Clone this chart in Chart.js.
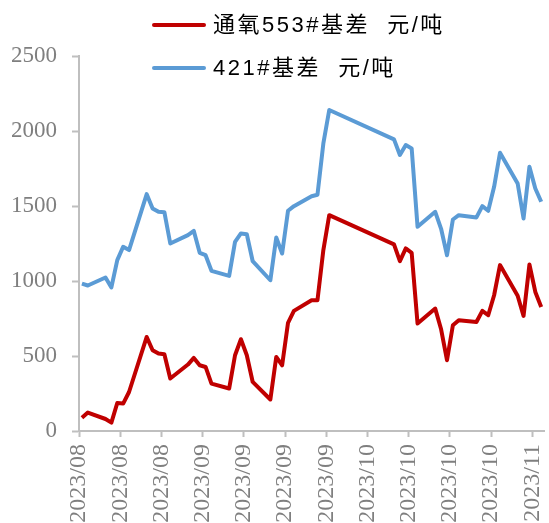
<!DOCTYPE html>
<html lang="zh">
<head>
<meta charset="UTF-8">
<title>基差</title>
<script src="https://cdn.jsdelivr.net/npm/chart.js"></script>
<style>
  body { margin: 0; background: #fff; }
</style>
</head>
<body>
<canvas id="basisChart" width="549" height="523"></canvas>
<script>
// trading days (weekends and the October holiday are gaps)
const dates = [
  '2023-08-17', '2023-08-18',
  '2023-08-21', '2023-08-22', '2023-08-23', '2023-08-24', '2023-08-25',
  '2023-08-28', '2023-08-29', '2023-08-30', '2023-08-31', '2023-09-01',
  '2023-09-04', '2023-09-05', '2023-09-06', '2023-09-07', '2023-09-08',
  '2023-09-11', '2023-09-12', '2023-09-13', '2023-09-14', '2023-09-15',
  '2023-09-18', '2023-09-19', '2023-09-20', '2023-09-21', '2023-09-22',
  '2023-09-25', '2023-09-26', '2023-09-27', '2023-09-28',
  '2023-10-09', '2023-10-10', '2023-10-11', '2023-10-12', '2023-10-13',
  '2023-10-16', '2023-10-17', '2023-10-18', '2023-10-19', '2023-10-20',
  '2023-10-23', '2023-10-24', '2023-10-25', '2023-10-26', '2023-10-27',
  '2023-10-30', '2023-10-31', '2023-11-01', '2023-11-02', '2023-11-03'
];

const basis553 = [
  89, 123,
  80, 56, 187, 183, 260,
  627, 538, 516, 512, 350,
  443, 487, 438, 427, 316,
  283, 505, 612, 505, 327,
  210, 494, 438, 721, 801,
  872, 872, 1206, 1439,
  1244, 1132, 1217, 1188, 716,
  816, 678, 472, 705, 739,
  727, 801, 772, 905, 1106,
  902, 767, 1110, 927, 827
];

const basis421 = [
  983, 970,
  1023, 957, 1139, 1228, 1206,
  1579, 1484, 1461, 1459, 1250,
  1306, 1334, 1188, 1172, 1068,
  1034, 1261, 1317, 1312, 1132,
  1005, 1290, 1183, 1468, 1499,
  1565, 1575, 1917, 2140,
  1944, 1840, 1906, 1884, 1361,
  1461, 1348, 1172, 1410, 1439,
  1424, 1499, 1468, 1628, 1855,
  1650, 1417, 1761, 1617, 1528
];

// weekly major ticks on the date axis
const tickDates = [
  '2023-08-17', '2023-08-24', '2023-08-31', '2023-09-07', '2023-09-14', '2023-09-21',
  '2023-09-28', '2023-10-05', '2023-10-12', '2023-10-19', '2023-10-26', '2023-11-02'
];

const seriesNames = ['通氧553#基差  元/吨', '421#基差  元/吨'];

const DAY = 86400000;
const start = Date.parse(dates[0]);
const dayOf = s => (Date.parse(s) - start) / DAY;
const lastDay = dayOf(dates[dates.length - 1]);

const axisGray = '#bfbfbf';
const labelGray = '#7f7f7f';
const serif = '"Liberation Serif", "Times New Roman", serif';

// two stacked legend rows drawn over the top of the plot
const legendRows = {
  id: 'legendRows',
  afterDraw(chart) {
    const ctx = chart.ctx;
    chart.data.datasets.forEach((ds, i) => {
      const y = 25 + i * 43;
      ctx.save();
      ctx.strokeStyle = ds.borderColor;
      ctx.lineWidth = 4;
      ctx.lineCap = 'round';
      ctx.beginPath();
      ctx.moveTo(154, y);
      ctx.lineTo(204, y);
      ctx.stroke();
      ctx.fillStyle = '#000';
      ctx.font = '22px "Liberation Sans", "Noto Sans CJK SC", sans-serif';
      ctx.letterSpacing = '2.5px';
      ctx.textBaseline = 'middle';
      ctx.fillText(ds.label, 213, y + 1);
      ctx.restore();
    });
  }
};

new Chart(document.getElementById('basisChart'), {
  type: 'line',
  data: {
    datasets: [
      {
        label: seriesNames[0],
        data: dates.map((d, i) => ({ x: dayOf(d), y: basis553[i] })),
        borderColor: '#c00000',
        borderWidth: 4,
        pointRadius: 0,
        borderJoinStyle: 'round',
        tension: 0
      },
      {
        label: seriesNames[1],
        data: dates.map((d, i) => ({ x: dayOf(d), y: basis421[i] })),
        borderColor: '#5b9bd5',
        borderWidth: 4,
        pointRadius: 0,
        borderJoinStyle: 'round',
        tension: 0
      }
    ]
  },
  options: {
    responsive: false,
    devicePixelRatio: 1,
    animation: false,
    layout: { padding: { top: 56, right: 1, left: 0, bottom: 0 } },
    plugins: {
      legend: { display: false },
      tooltip: { enabled: false }
    },
    scales: {
      x: {
        type: 'linear',
        min: -0.5,
        max: lastDay + 0.5,
        afterBuildTicks: scale => {
          scale.ticks = tickDates.map(t => ({ value: dayOf(t) - 0.5 }));
        },
        afterFit: scale => { scale.height = 92; },
        border: { color: axisGray, width: 2 },
        grid: { drawOnChartArea: false, tickLength: 6, tickWidth: 2, tickColor: axisGray },
        ticks: {
          autoSkip: false,
          minRotation: 90,
          maxRotation: 90,
          padding: 7,
          color: labelGray,
          font: { family: serif, size: 24, lineHeight: 0.4 },
          callback: (v, i) => tickDates[i].slice(0, 7).replace('-', '/')
        }
      },
      y: {
        min: 0,
        max: 2500,
        afterFit: scale => { scale.width = 79; },
        border: { color: axisGray, width: 2 },
        grid: { drawOnChartArea: false, tickLength: 7, tickWidth: 2, tickColor: axisGray },
        ticks: {
          stepSize: 500,
          padding: 15,
          color: labelGray,
          font: { family: serif, size: 23 },
          callback: v => String(v)
        }
      }
    }
  },
  plugins: [legendRows]
});
</script>
</body>
</html>
